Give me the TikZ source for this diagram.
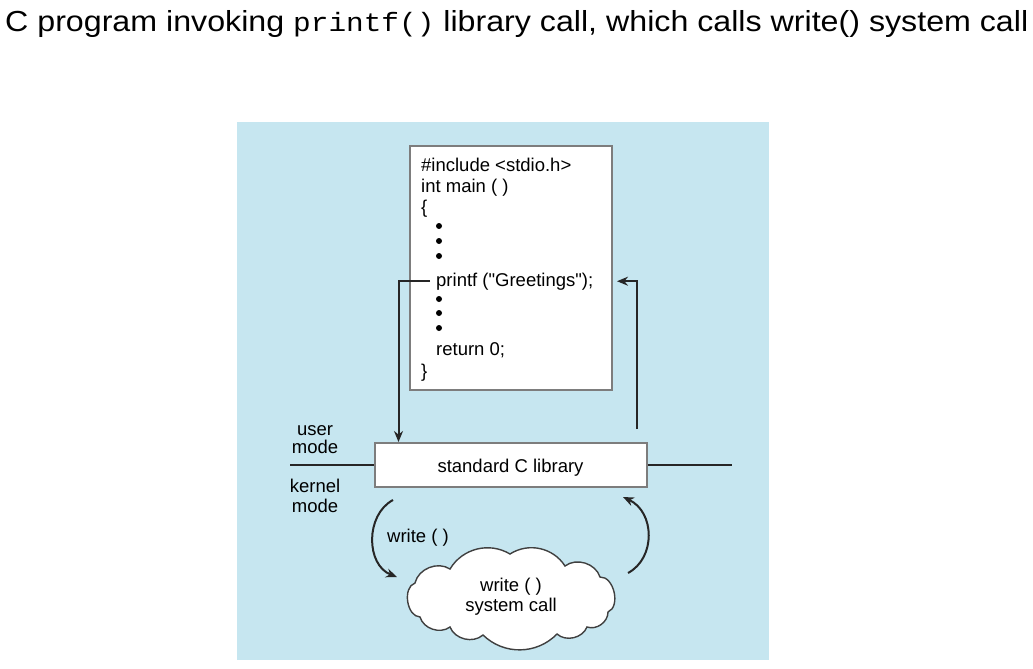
\documentclass[tikz,border=0pt]{standalone}
\usepackage{fontspec}
\setmainfont{Liberation Sans}
\newfontfamily\titlefont[FakeStretch=1.11]{Liberation Sans}
\newfontfamily\titlemono[FakeStretch=1.11]{Liberation Mono}
\usetikzlibrary{arrows.meta,positioning}
\definecolor{bgblue}{RGB}{198,230,240}
\definecolor{boxgray}{RGB}{125,125,125}

\begin{document}
\begin{tikzpicture}[x=1pt,y=-1pt,
    txt/.style={font=\fontsize{18.5}{20}\selectfont, inner sep=0pt, anchor=base west},
    lbl/.style={font=\fontsize{18.5}{20}\selectfont, inner sep=0pt, anchor=base},
    arr/.style={-{Stealth[length=11pt,width=9pt]}, line width=2pt, draw=black!85},
    ln/.style={line width=2pt, draw=black!85},
    puff/.style={bend left=55}]
  \useasboundingbox (0,0) rectangle (1033,669);
  \fill[bgblue] (237,122) rectangle (769,660);
  \node[anchor=base west, inner sep=0pt, font=\fontsize{29}{32}\titlefont] (T) at (5,32)
    {C program invoking {\fontsize{26.5}{32}\titlemono printf()} library call, which calls write() system call};
  % program text
  \node[draw=boxgray, fill=white, line width=2pt, minimum width=202pt, minimum height=244pt] (CODE) at (511,268) {};
  \node[txt] (L1) at (421,171) {\#include <stdio.h>};
  \node[txt] (L2) at (421,192) {int main ( )};
  \node[txt] (L3) at (421,213) {\{};
  \node[txt] (P)  at (436,286) {printf (\textquotedbl Greetings\textquotedbl);};
  \node[txt] (L5) at (436,355) {return 0;};
  \node[txt] (L6) at (421,377) {\}};
  \foreach \y in {226,241,256,299,313,328}
    \fill (439,\y) circle (3pt);
  % library and mode line
  \node[draw=boxgray, fill=white, line width=2pt, minimum width=272pt, minimum height=44pt,
        text height=14pt, text depth=0pt,
        font=\fontsize{18.5}{20}\selectfont] (LIB) at (510.5,465) {standard C library};
  \coordinate (ML) at (290,465);
  \coordinate (MR) at (732,465);
  \draw[ln] (ML) -- (LIB.west);
  \draw[ln] (LIB.east) -- (MR);
  \node[lbl] (U1) at (315,435) {user};
  \node[lbl] (U2) at (315,453) {mode};
  \node[lbl] (K1) at (315,492) {kernel};
  \node[lbl] (K2) at (315,512) {mode};
  % call and return
  \path (CODE.east |- P.west) coordinate (PE);
  \draw[arr] ([xshift=-6pt]P.west) -| ([xshift=25pt]LIB.north west);
  \draw[arr] ([xshift=-11pt,yshift=13pt]LIB.north east) |- ([xshift=4pt]PE);
  % system call
  \draw[line width=1.4pt, draw=black!75, fill=white]
    (415,583) to[puff] (450,569) to[bend left=45] (510,554) to[bend left=45] (565,566)
    to[puff] (600,577) to[bend left=80] (608,612) to[puff] (587,627) to[puff] (557,634)
    to[bend left=45] (483,635) to[puff] (450,627) to[puff] (420,617) to[bend left=80] cycle;
  \node[align=center, inner sep=0pt, font=\fontsize{18.5}{20}\selectfont] (SYS) at (511,597)
    {write ( )\\system call};
  \node[txt] (W) at (387,542) {write ( )};
  \coordinate (A1) at (393,500);
  \coordinate (A2) at (397,577);
  \coordinate (B1) at (628,573);
  \coordinate (B2) at (623,497);
  \draw[arr] (A1) .. controls (365,515) and (366,565) .. (A2);
  \draw[arr] (B1) .. controls (656,558) and (655,512) .. (B2);
\end{tikzpicture}
\end{document}
